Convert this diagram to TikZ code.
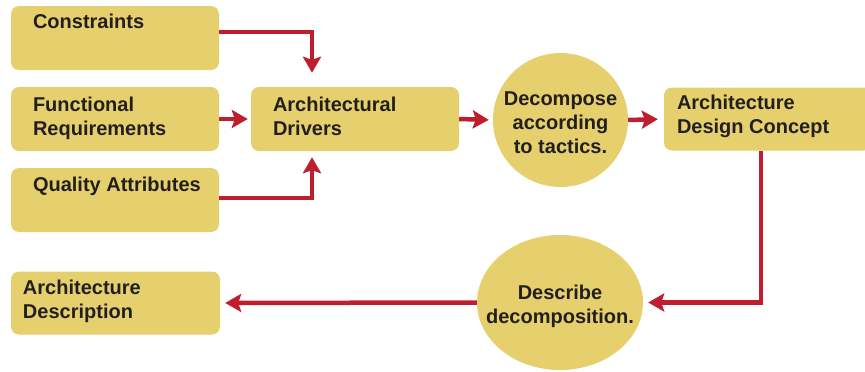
\documentclass[tikz,border=0pt]{standalone}
\usepackage{fontspec}
\setmainfont{Liberation Sans}
\usetikzlibrary{arrows.meta,calc,shapes.geometric}
\definecolor{boxfill}{HTML}{E6D06E}
\definecolor{flowred}{HTML}{BE1E2D}
\definecolor{ink}{HTML}{231F20}
\begin{document}
\begin{tikzpicture}[x=1pt,y=-1pt,
  box/.style={fill=boxfill, rounded corners=8pt, minimum width=208pt,
              minimum height=64pt, inner sep=0pt},
  blob/.style={fill=boxfill, ellipse, inner sep=0pt},
  txt/.style={font=\bfseries\fontsize{20}{24}\selectfont, text=ink,
              inner sep=0pt, align=left},
  ctxt/.style={txt, align=center},
  flow/.style={draw=flowred, line width=4.5pt,
               -{Stealth[length=16pt,width=18pt,inset=3pt]}},
]
\path[use as bounding box, clip] (0,0) rectangle (865,372);

% input boxes
\node[box] (con) at (115,38)  {};
\node[box] (fun) at (115,119) {};
\node[box] (qa)  at (115,200) {};
\node[txt, anchor=north west] (conT) at ($(con.north west)+(22,8)$) {Constraints};
\node[txt, anchor=north west] (funT) at ($(fun.north west)+(22,10)$) {Functional\\Requirements};
\node[txt, anchor=north west] (qaT)  at ($(qa.north west)+(22,9)$)  {Quality Attributes};

% drivers
\node[box] (drv) at (355,119) {};
\node[txt, anchor=north west] (drvT) at ($(drv.north west)+(22,10)$) {Architectural\\Drivers};

% decomposition step
\node[blob, minimum width=135pt, minimum height=134pt] (dec) at (560.5,120) {};
\node[ctxt, anchor=north] (decT) at (560.5,92) {Decompose\\according\\to tactics.};

% design concept (runs off the right edge)
\node[box, minimum width=208pt, minimum height=63pt] (cpt) at (768,119) {};
\node[txt, anchor=north west] (cptT) at ($(cpt.north west)+(13,8)$) {Architecture\\Design Concept};

% description step
\node[blob, minimum width=166pt, minimum height=135pt] (dsc) at (560,302.5) {};
\node[ctxt, anchor=north] (dscT) at (560,285) {Describe\\decomposition.};

% output
\node[box, minimum width=209pt, minimum height=63pt] (out) at (115.5,303) {};
\node[txt, anchor=north west] (outT) at ($(out.north west)+(12,9)$) {Architecture\\Description};

% connectors
\draw[flow] ($(con.east)+(0,-6)$) -| ($(drv.north)+(-43,-14)$);
\draw[flow] ($(qa.east)+(0,-2)$)  -| ($(drv.south)+(-43,6)$);
\draw[flow, shorten >=3pt] (fun.east) -- (drv.west);
\draw[flow, shorten >=4pt] (drv.east) -- (dec.west);
\draw[flow, shorten >=6pt] (dec.east) -- (cpt.west);
\draw[flow, shorten >=5pt] ($(cpt.south west)+(97,0)$) |- (dsc.east);
\draw[flow, shorten >=5pt] (dsc.west) -- (out.east);
\end{tikzpicture}
\end{document}
